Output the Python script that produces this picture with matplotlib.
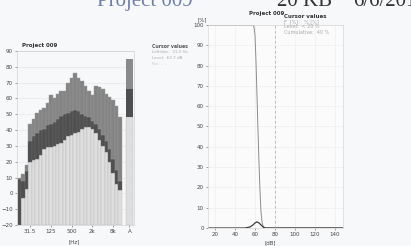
import numpy as np
import matplotlib.pyplot as plt

W, H = 411, 246

# third-octave bands, 16 Hz .. 12.5 kHz
bands = ['16', '20', '25', '31.5', '40', '50', '63', '80', '100', '125',
         '160', '200', '250', '315', '400', '500', '630', '800', '1k', '1.25k',
         '1.6k', '2k', '2.5k', '3.15k', '4k', '5k', '6.3k', '8k', '10k', '12.5k']
level_low = [-20, -3, 3, 20, 21, 22, 24, 28, 29, 29, 30, 31, 32, 34, 36,
             37, 38, 39, 41, 42, 42, 41, 38, 34, 30, 26, 20, 13, 6, 2]
level_mid = [9, 8, 14, 33, 36, 38, 40, 41, 43, 44, 45, 47, 49, 50, 51,
             52, 53, 52, 50, 49, 48, 46, 44, 41, 37, 33, 28, 22, 15, 8]
level_top = [10, 12, 18, 44, 47, 51, 53, 54, 57, 62, 60, 63, 65, 65, 70,
             73, 76, 73, 71, 68, 65, 62, 68, 67, 66, 63, 61, 59, 55, 48]
tick_bands = ['31.5', '125', '500', '2k', '8k']
overall = {'low': 48, 'mid': 66, 'top': 85}

# level statistics (right chart)
cum_db = [13, 58, 59, 60, 61, 62, 63, 64, 65, 66, 67, 68, 70, 148]
cum_pct = [100, 100, 99, 95, 82, 65, 48, 32, 18, 8, 3, 1, 0, 0]
dist_db = [13, 50, 55, 58, 60, 62, 64, 66, 68, 70, 148]
dist_pct = [0, 0, 0.5, 1.5, 2.5, 3, 2.5, 1.5, 0.5, 0, 0]


def px(x, y):
    return x / W, 1 - y / H


fig = plt.figure(figsize=(W / 100, H / 100), dpi=100)
fig.patch.set_facecolor('#f7f8f9')

# header, cut at the top of the picture
fig.text(*px(97, 6), 'Project 009', family='Liberation Serif', fontsize=15,
         color='#6d7fa6', va='baseline')
fig.text(*px(277, 6), '20 KB', family='Liberation Serif', fontsize=15,
         color='#333333', va='baseline')
fig.text(*px(353, 6), '6/6/2019', family='Liberation Serif', fontsize=15,
         color='#333333', va='baseline')

# ---- left: spectrum ----
ax1 = fig.add_axes([17 / W, 1 - 225 / H, 117 / W, 174 / H])
ax1.set_facecolor('#f7f8f9')
x = np.arange(len(bands))
low = np.array(level_low)
mid = np.array(level_mid)
top = np.array(level_top)
ax1.bar(x, low + 20, bottom=-20, width=1, color='#dedede',
        edgecolor='#b8b8b8', linewidth=0.3)
ax1.bar(x, mid - low, bottom=low, width=1, color='#4f4f4f',
        edgecolor='#6a6a6a', linewidth=0.3)
ax1.bar(x, top - mid, bottom=mid, width=1, color='#848484',
        edgecolor='#9a9a9a', linewidth=0.3)
xo = 31.66
ax1.bar(xo, overall['low'] + 20, bottom=-20, width=2, color='#dedede',
        edgecolor='#b8b8b8', linewidth=0.3)
ax1.bar(xo, overall['mid'] - overall['low'], bottom=overall['low'], width=2,
        color='#4f4f4f', linewidth=0)
ax1.bar(xo, overall['top'] - overall['mid'], bottom=overall['mid'], width=2,
        color='#8a8a8a', linewidth=0)
ax1.set_xlim(-0.76, 33)
ax1.set_ylim(-20, 90)
ax1.set_yticks(np.arange(-20, 91, 10))
ax1.set_xticks([bands.index(b) for b in tick_bands] + [xo])
ax1.set_xticklabels(tick_bands + ['A'])
ax1.yaxis.grid(True, color='#e4e4e4', linewidth=0.4)
ax1.set_axisbelow(True)
ax1.tick_params(labelsize=4, length=1.5, width=0.4, pad=1.5,
                colors='#555555', labelcolor='#444444')
for s in ax1.spines.values():
    s.set_color('#c8c8c8')
    s.set_linewidth(0.4)
fig.text(*px(40, 46), 'Project 009', fontsize=4, fontweight='bold',
         color='#333333', ha='center', va='center')
fig.text(*px(74, 242), '[Hz]', fontsize=4, color='#444444',
         ha='center', va='center')

# cursor box of the spectrum
fig.text(*px(152, 47), 'Cursor values', fontsize=3.3, fontweight='bold',
         color='#555555', va='center')
fig.text(*px(152, 52), 'Left/dec:  31.2 Hz', fontsize=3, color='#aaaaaa',
         va='center')
fig.text(*px(152, 58), 'Level:  63.7 dB', fontsize=3, color='#aaaaaa',
         va='center')
fig.text(*px(152, 64), 'Fix:  -  -', fontsize=3, color='#c4c4c4',
         va='center')

# ---- right: level statistics ----
ax2 = fig.add_axes([208 / W, 1 - 228 / H, 135 / W, 203 / H])
ax2.set_facecolor('#fbfbfc')
ax2.plot(cum_db, cum_pct, color='#8f8a8d', linewidth=0.7)
ax2.plot(dist_db, dist_pct, color='#3a3a3a', linewidth=0.9)
ax2.axvline(80, color='#b0b0b0', linewidth=0.6, linestyle=(0, (3, 3)))
ax2.set_xlim(13, 148)
ax2.set_ylim(0, 100)
ax2.set_xticks(np.arange(20, 141, 20))
ax2.set_yticks(np.arange(0, 101, 10))
ax2.grid(True, color='#ececec', linewidth=0.4)
ax2.set_axisbelow(True)
ax2.tick_params(labelsize=4, length=1.5, width=0.4, pad=1.5,
                colors='#555555', labelcolor='#444444')
for s in ax2.spines.values():
    s.set_color('#d0d0d0')
    s.set_linewidth(0.4)
fig.text(*px(202, 20), '[%]', fontsize=4, color='#444444',
         ha='center', va='center')
fig.text(*px(267, 14), 'Project 009', fontsize=4, fontweight='bold',
         color='#333333', ha='center', va='center')
fig.text(*px(270, 243), '[dB]', fontsize=4, color='#444444',
         ha='center', va='center')

# cursor box of the statistics
fig.text(*px(284, 16), 'Cursor values', fontsize=4, fontweight='bold',
         color='#333333', va='center')
fig.text(*px(284, 22), 'F  [%]:   % [%]', fontsize=3.5, color='#a8a8a8',
         va='center')
fig.text(*px(284, 27), 'Level:  < 20 %', fontsize=3.5, color='#a8a8a8',
         va='center')
fig.text(*px(284, 32), 'Cumulative:  40 %', fontsize=3.5, color='#a8a8a8',
         va='center')

fig.savefig('out.png', dpi=100, facecolor=fig.get_facecolor())
